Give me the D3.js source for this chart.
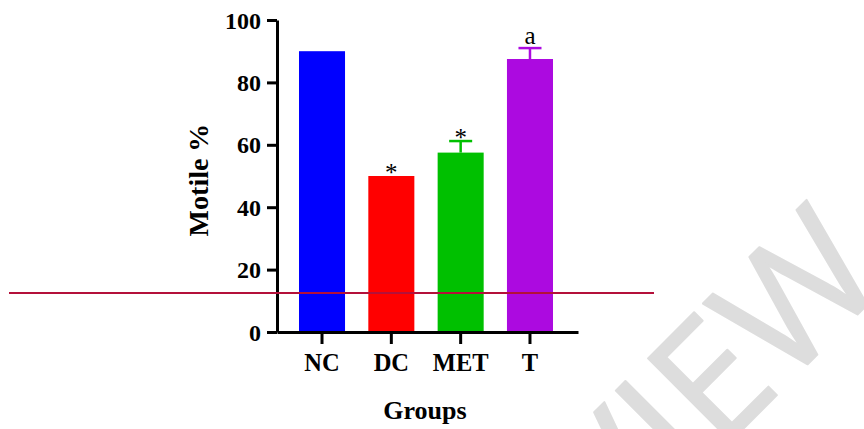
<!DOCTYPE html>
<html>
<head>
<meta charset="utf-8">
<script src="https://cdn.jsdelivr.net/npm/d3@7"></script>
<style>
  html, body { margin: 0; padding: 0; background: #fff; }
  svg { display: block; }
</style>
</head>
<body>
<script>
// ---- data ----
const categories = ["NC", "DC", "MET", "T"];
const values = [90, 50, 57.5, 87.5];
const errors = [0, 0, 3.7, 3.5];
const marks = ["", "*", "*", "a"];
const barColors = ["#0000FF", "#FF0000", "#00C000", "#AC0AE0"];
const yTicks = [0, 20, 40, 60, 80, 100];
const yTitle = "Motile %";
const xTitle = "Groups";
const watermark = "REVIEW";

const W = 864, H = 429;
const svg = d3.select("body").append("svg").attr("width", W).attr("height", H);

const serif = "'Liberation Serif', 'Times New Roman', Times, serif";

// watermark (background), clipped to the canvas
svg.append("defs").append("clipPath").attr("id", "page")
  .append("rect").attr("width", W).attr("height", H);
svg.append("g").attr("clip-path", "url(#page)")
  .append("text")
  .attr("transform", "translate(482,690) rotate(-45)")
  .attr("font-family", "'Open Sans', sans-serif")
  .attr("font-size", 164)
  .attr("fill", "#dddddd")
  .attr("stroke", "#dddddd")
  .attr("stroke-width", 2)
  .attr("stroke-linejoin", "round")
  .text(watermark);

const y = d3.scaleLinear().domain([0, 100]).range([332, 20]);
const x = d3.scaleBand().domain(categories).range([277, 578])
  .paddingInner(0.336).paddingOuter(0.339).align(0.468);

// bars
svg.append("g").selectAll("rect").data(categories).join("rect")
  .attr("x", d => x(d))
  .attr("width", x.bandwidth())
  .attr("y", (d, i) => y(values[i]))
  .attr("height", (d, i) => y(0) - y(values[i]))
  .attr("fill", (d, i) => barColors[i]);

// error bars (upper only)
const eg = svg.append("g");
categories.forEach((c, i) => {
  if (errors[i] <= 0) return;
  const cx = x(c) + x.bandwidth() / 2;
  const half = x.bandwidth() / 4;
  eg.append("line").attr("x1", cx).attr("x2", cx)
    .attr("y1", y(values[i])).attr("y2", y(values[i] + errors[i]))
    .attr("stroke", barColors[i]).attr("stroke-width", 2.5);
  eg.append("line").attr("x1", cx - half).attr("x2", cx + half)
    .attr("y1", y(values[i] + errors[i])).attr("y2", y(values[i] + errors[i]))
    .attr("stroke", barColors[i]).attr("stroke-width", 2.5);
});

// significance marks
svg.append("g").selectAll("text").data(categories).join("text")
  .attr("x", d => x(d) + x.bandwidth() / 2)
  .attr("y", (d, i) => y(values[i] + errors[i]) + (marks[i] === "*" ? 5 : -4))
  .attr("text-anchor", "middle")
  .attr("font-family", serif)
  .attr("font-size", 25)
  .attr("fill", "#000")
  .text((d, i) => marks[i]);

// y axis
const yAxis = svg.append("g").attr("transform", "translate(277,0)")
  .call(d3.axisLeft(y).tickValues(yTicks).tickSize(10).tickPadding(6).tickSizeOuter(0));
yAxis.select(".domain").attr("stroke", "#000").attr("stroke-width", 3);
yAxis.selectAll(".tick line").attr("stroke", "#000").attr("stroke-width", 3);
yAxis.selectAll(".tick text")
  .attr("font-family", serif).attr("font-size", 24).attr("font-weight", "bold")
  .attr("fill", "#000").attr("dy", "0.34em");

// x axis
const xAxis = svg.append("g").attr("transform", "translate(0,332)")
  .call(d3.axisBottom(x).tickSize(12).tickPadding(10).tickSizeOuter(0));
xAxis.select(".domain").attr("stroke", "#000").attr("stroke-width", 3);
xAxis.selectAll(".tick line").attr("stroke", "#000").attr("stroke-width", 3);
xAxis.selectAll(".tick text")
  .attr("font-family", serif).attr("font-size", 24.5).attr("font-weight", "bold")
  .attr("fill", "#000").attr("dy", "0.71em");

// titles
svg.append("text")
  .attr("transform", "translate(208,180) rotate(-90)")
  .attr("text-anchor", "middle")
  .attr("font-family", serif).attr("font-size", 28).attr("font-weight", "bold")
  .attr("fill", "#000")
  .text(yTitle);

svg.append("text")
  .attr("x", 425).attr("y", 419)
  .attr("text-anchor", "middle")
  .attr("font-family", serif).attr("font-size", 26).attr("font-weight", "bold")
  .attr("fill", "#000")
  .text(xTitle);

// overlay red rule line
svg.append("line")
  .attr("x1", 9).attr("x2", 654).attr("y1", 293).attr("y2", 293)
  .attr("stroke", "#B4103A").attr("stroke-width", 2);
</script>
</body>
</html>
